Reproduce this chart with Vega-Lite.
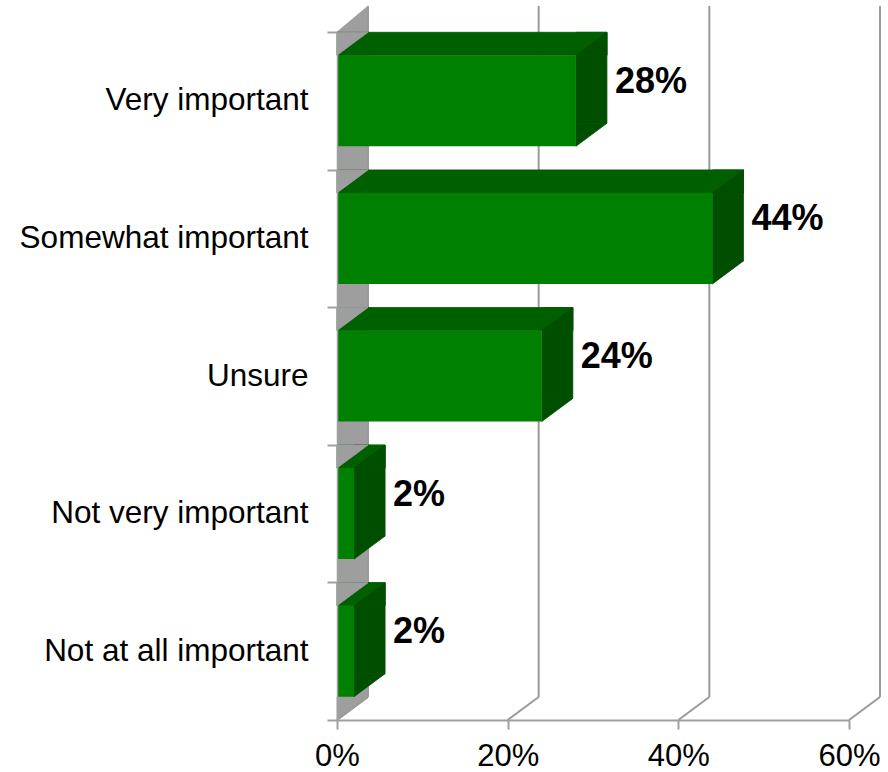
{
  "$schema": "https://vega.github.io/schema/vega-lite/v6.json",
  "width": 512,
  "height": 688,
  "autosize": {"type": "none"},
  "padding": {"left": 337, "top": 32, "right": 39, "bottom": 52},
  "background": "white",
  "config": {"view": {"stroke": null}, "font": "Liberation Sans"},
  "datasets": {
    "bars": [
      {"answer": "Very important", "pct": 0.28},
      {"answer": "Somewhat important", "pct": 0.44},
      {"answer": "Unsure", "pct": 0.24},
      {"answer": "Not very important", "pct": 0.02},
      {"answer": "Not at all important", "pct": 0.02}
    ],
    "ticks": [{"v": 0}, {"v": 0.2}, {"v": 0.4}, {"v": 0.6}],
    "one": [{"k": 0}]
  },
  "layer": [
    {
      "data": {"name": "one"},
      "mark": {"type": "rect", "color": "#9e9e9e", "x2Offset": 31, "y2Offset": -23},
      "encoding": {
        "x": {"datum": 0, "type": "quantitative", "scale": {"domain": [0, 0.6], "nice": false}},
        "x2": {"datum": 0},
        "y": {"value": 0},
        "y2": {"value": "height"}
      }
    },
    {
      "data": {"name": "one"},
      "mark": {"type": "point", "shape": "M0,0L31,-26L31,0Z", "size": 4, "filled": true, "opacity": 1, "color": "#9e9e9e", "stroke": "#9e9e9e", "strokeWidth": 0.8},
      "encoding": {
        "x": {"datum": 0, "type": "quantitative"},
        "y": {"value": 0}
      }
    },
    {
      "data": {"name": "one"},
      "mark": {"type": "point", "shape": "M0,0L0,-23L31,-23Z", "size": 4, "filled": true, "opacity": 1, "color": "#9e9e9e", "stroke": "#9e9e9e", "strokeWidth": 0.8},
      "encoding": {
        "x": {"datum": 0, "type": "quantitative"},
        "y": {"value": "height"}
      }
    },
    {
      "data": {"name": "ticks"},
      "mark": {"type": "rule", "color": "#9a9a9a", "strokeWidth": 2, "xOffset": 31, "yOffset": -26, "y2Offset": -23},
      "encoding": {
        "x": {"field": "v", "type": "quantitative"},
        "y": {"value": 0},
        "y2": {"value": "height"}
      }
    },
    {
      "data": {"name": "ticks"},
      "mark": {"type": "rule", "color": "#9a9a9a", "strokeWidth": 2, "x2Offset": 31, "y2Offset": -23},
      "encoding": {
        "x": {"field": "v", "type": "quantitative"},
        "x2": {"field": "v"},
        "y": {"value": "height"},
        "y2": {"value": "height"}
      }
    },
    {
      "data": {"name": "bars"},
      "mark": {"type": "bar", "color": "#004f00", "stroke": "#004f00", "strokeWidth": 0.8, "height": 91, "x2Offset": 31, "yOffset": -23},
      "encoding": {
        "x": {"field": "pct", "type": "quantitative"},
        "x2": {"field": "pct"},
        "y": {"field": "answer", "type": "nominal", "sort": null, "scale": {"paddingInner": 0, "paddingOuter": 0}}
      }
    },
    {
      "data": {"name": "bars"},
      "mark": {"type": "bar", "color": "#005f00", "stroke": "#005f00", "strokeWidth": 0.8, "height": 23, "xOffset": 31, "yOffset": -57},
      "encoding": {
        "x": {"field": "pct", "type": "quantitative"},
        "x2": {"datum": 0},
        "y": {"field": "answer", "type": "nominal", "sort": null}
      }
    },
    {
      "data": {"name": "bars"},
      "mark": {"type": "point", "shape": "M0,0L31,-23L31,0Z", "size": 4, "filled": true, "opacity": 1, "color": "#004f00", "stroke": "#004f00", "strokeWidth": 0.8, "yOffset": -45.5},
      "encoding": {
        "x": {"field": "pct", "type": "quantitative"},
        "y": {"field": "answer", "type": "nominal", "sort": null}
      }
    },
    {
      "data": {"name": "bars"},
      "mark": {"type": "point", "shape": "M0,0L0,-23L31,-23Z", "size": 4, "filled": true, "opacity": 1, "color": "#9e9e9e", "stroke": "#9e9e9e", "strokeWidth": 0.8, "yOffset": -45.5},
      "encoding": {
        "x": {"datum": 0, "type": "quantitative"},
        "y": {"field": "answer", "type": "nominal", "sort": null}
      }
    },
    {
      "data": {"name": "bars"},
      "mark": {"type": "point", "shape": "M0,0L0,-23L31,-23Z", "size": 4, "filled": true, "opacity": 1, "color": "#004f00", "stroke": "#004f00", "strokeWidth": 0.8, "yOffset": 45.5},
      "encoding": {
        "x": {"field": "pct", "type": "quantitative"},
        "y": {"field": "answer", "type": "nominal", "sort": null}
      }
    },
    {
      "data": {"name": "bars"},
      "mark": {"type": "bar", "color": "#008000", "height": 91},
      "encoding": {
        "x": {
          "field": "pct", "type": "quantitative",
          "axis": {
            "title": null, "values": [0, 0.2, 0.4, 0.6], "format": ".0%", "grid": false, "labelFlush": false,
            "domainColor": "#a0a0a0", "domainWidth": 2, "tickColor": "#a0a0a0", "tickWidth": 2, "tickSize": 9,
            "labelFontSize": 31, "labelColor": "black", "labelFont": "Liberation Sans",
            "labelBaseline": "alphabetic", "labelPadding": 36, "zindex": 1
          }
        },
        "y": {
          "field": "answer", "type": "nominal", "sort": null,
          "axis": {
            "title": null, "tickBand": "extent", "tickSize": 10, "tickColor": "#a0a0a0", "tickWidth": 2,
            "domainColor": "#a0a0a0", "domainWidth": 1.5,
            "labelFontSize": 31.5, "labelColor": "black", "labelFont": "Liberation Sans",
            "labelPadding": 19, "labelLimit": 400, "zindex": 1
          }
        }
      }
    },
    {
      "data": {"name": "bars"},
      "mark": {"type": "text", "align": "left", "baseline": "middle", "dx": 39, "dy": -19, "fontSize": 36, "fontWeight": "bold", "font": "Liberation Sans", "color": "black"},
      "encoding": {
        "x": {"field": "pct", "type": "quantitative"},
        "y": {"field": "answer", "type": "nominal", "sort": null},
        "text": {"field": "pct", "type": "quantitative", "format": ".0%"}
      }
    }
  ]
}
